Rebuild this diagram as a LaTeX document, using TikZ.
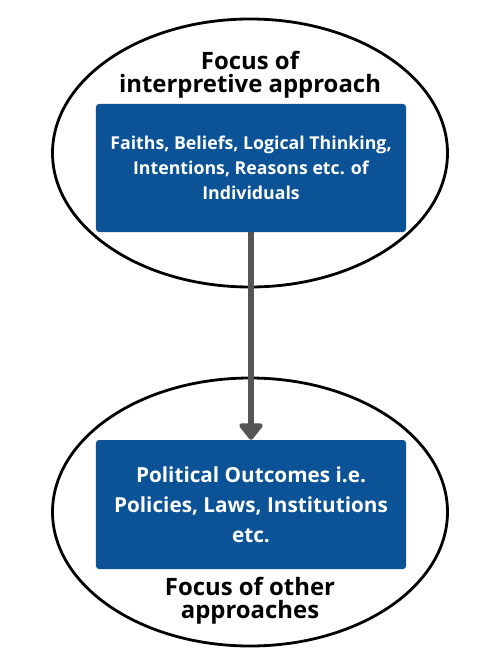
\documentclass[tikz,border=0pt]{standalone}
\usepackage{fontspec}
\setmainfont{Open Sans}
\usetikzlibrary{arrows.meta,shapes.geometric}
\definecolor{boxblue}{RGB}{11,83,150}
\definecolor{arrowgray}{RGB}{85,85,85}
\begin{document}
\begin{tikzpicture}[x=1bp,y=-1bp,
  ring/.style={draw=black, ellipse, line width=2.8bp, minimum width=395bp, minimum height=268bp, inner sep=0pt},
  bluebox/.style={fill=boxblue, draw=none, rounded corners=3bp, text=white, align=center, minimum width=310bp, inner sep=0pt},
  title/.style={text=black, align=center, font=\bfseries\fontsize{24}{23}\selectfont},
  link/.style={draw=arrowgray, line width=6bp, -{Triangle[width=27bp,length=18bp,round]}}]
\useasboundingbox (0,0) rectangle (488,672);
\node[ring] (e1) at (250,153) {};
\node[ring] (e2) at (250,512) {};
\node[bluebox, minimum height=128bp, font=\bfseries\fontsize{17.8}{25}\selectfont] (b1) at (251,168)
  {Faiths, Beliefs, Logical Thinking,\\Intentions, Reasons etc. of\\Individuals};
\node[bluebox, minimum height=129bp, font=\bfseries\fontsize{20.8}{30}\selectfont] (b2) at (251,504.5)
  {Political Outcomes i.e.\\Policies, Laws, Institutions\\etc.};
\node[title] (t1) at (250,75) {Focus of\\interpretive approach};
\node[title] (t2) at (250,601) {Focus of other\\approaches};
\draw[link] (b1.south) -- (b2.north);
\end{tikzpicture}
\end{document}
